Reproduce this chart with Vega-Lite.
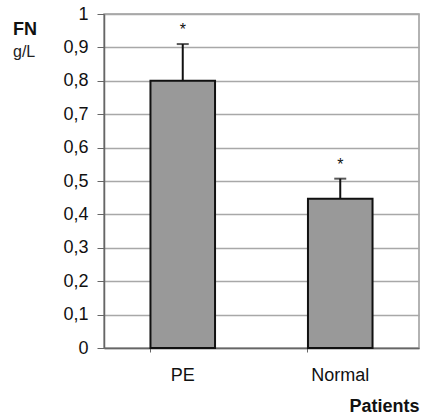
{
  "$schema": "https://vega.github.io/schema/vega-lite/v6.json",
  "width": 315,
  "height": 334,
  "autosize": "none",
  "padding": {"left": 104, "top": 14, "right": 3, "bottom": 72},
  "background": "white",
  "config": {
    "font": "Liberation Sans",
    "view": {"stroke": "#9a9a9a", "strokeWidth": 1.5},
    "axisY": {
      "tickCount": 10,
      "labelOverlap": false,
      "labelFontSize": 18,
      "labelColor": "#111",
      "labelPadding": 9,
      "tickSize": 7,
      "tickColor": "#666",
      "domainColor": "#666",
      "domainWidth": 1.5,
      "grid": true,
      "gridColor": "#a8a8a8",
      "gridWidth": 1.5
    }
  },
  "title": {
    "text": "FN",
    "subtitle": "g/L",
    "anchor": "start",
    "frame": "group",
    "dx": -91,
    "offset": -55,
    "fontSize": 18,
    "fontWeight": "bold",
    "color": "#111",
    "subtitleFontSize": 16,
    "subtitleColor": "#222",
    "subtitlePadding": 5
  },
  "data": {
    "values": [
      {"group": "PE", "mean": 0.8, "upper": 0.91},
      {"group": "Normal", "mean": 0.447, "upper": 0.507}
    ]
  },
  "encoding": {
    "x": {
      "field": "group",
      "type": "nominal",
      "sort": ["PE", "Normal"],
      "scale": {"paddingInner": 0.59, "paddingOuter": 0.295},
      "axis": {
        "title": "Patients",
        "titleAnchor": "end",
        "titleFontSize": 18,
        "titleFontWeight": "bold",
        "titleColor": "#111",
        "titlePadding": 13,
        "labelAngle": 0,
        "labelFontSize": 18,
        "labelColor": "#111",
        "labelPadding": 14,
        "bandPosition": 0,
        "tickSize": 4,
        "tickColor": "#666",
        "domainColor": "#666",
        "domainWidth": 1.5
      }
    }
  },
  "layer": [
    {
      "mark": {"type": "bar", "fill": "#999999", "stroke": "#111", "strokeWidth": 2},
      "encoding": {
        "y": {
          "field": "mean",
          "type": "quantitative",
          "scale": {"domain": [0, 1], "nice": false},
          "axis": {
            "title": null,
            "tickCount": 10,
            "labelExpr": "replace(format(datum.value, '~g'), '.', ',')"
          }
        }
      }
    },
    {
      "mark": {"type": "rule", "stroke": "#111", "strokeWidth": 2},
      "encoding": {
        "y": {"field": "mean", "type": "quantitative"},
        "y2": {"field": "upper"}
      }
    },
    {
      "mark": {"type": "tick", "color": "#111", "thickness": 2, "size": 12},
      "encoding": {
        "y": {"field": "upper", "type": "quantitative"}
      }
    },
    {
      "mark": {"type": "text", "text": "*", "fontSize": 16, "dy": -9, "baseline": "alphabetic", "color": "#111"},
      "encoding": {
        "y": {"field": "upper", "type": "quantitative"}
      }
    }
  ]
}
